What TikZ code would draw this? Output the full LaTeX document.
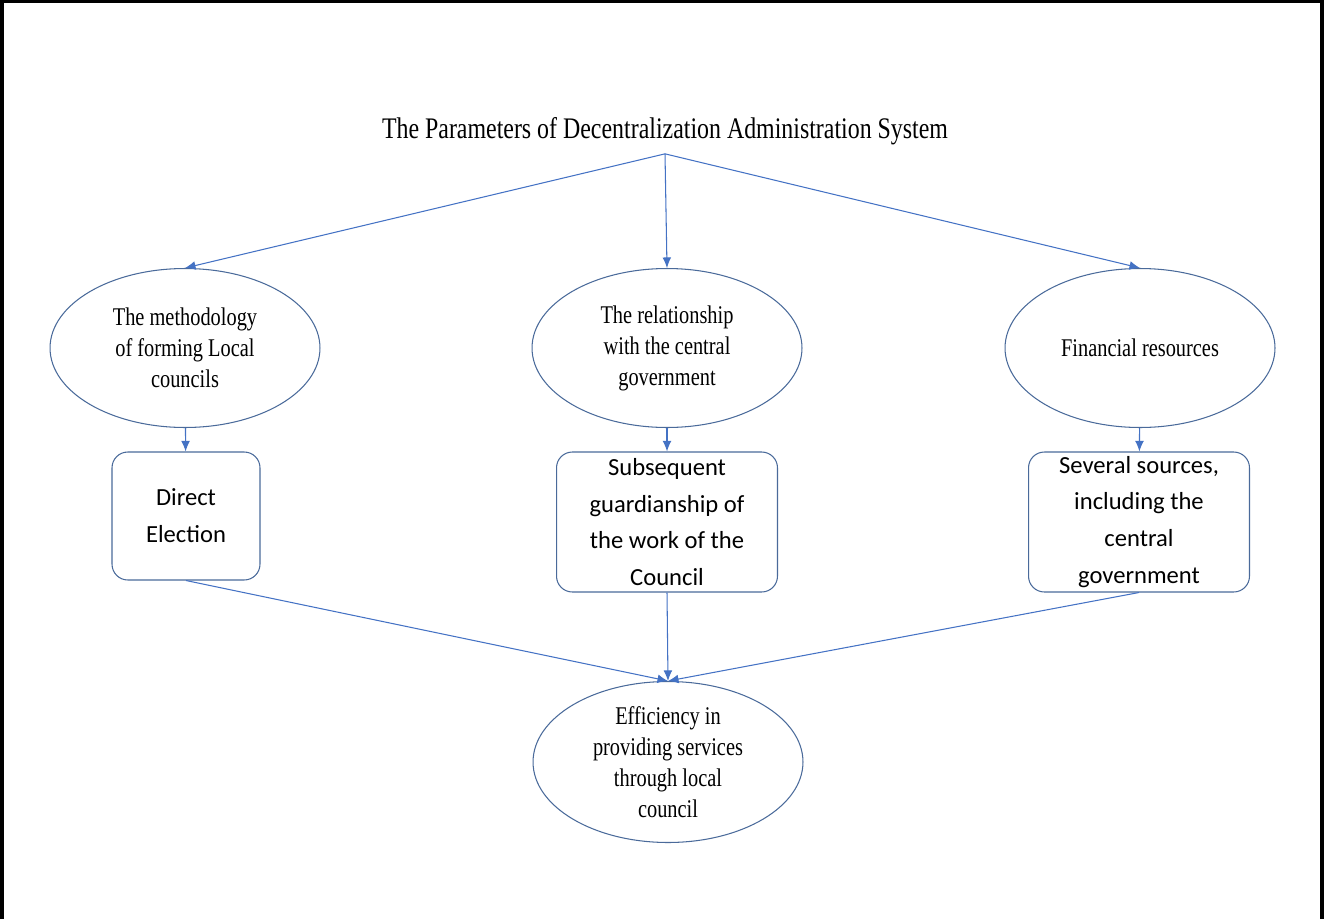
\documentclass[tikz,border=0pt]{standalone}
\usepackage{fontspec}
\usepackage{tikz}
\usetikzlibrary{shapes.geometric,arrows.meta}
\newfontfamily\ellfont[FakeStretch=0.8]{Liberation Serif}
\newfontfamily\boxfont{Carlito}
\definecolor{arrowblue}{HTML}{4472C4}
\definecolor{lineblue}{HTML}{4A6A9A}

\tikzset{
    param/.style={shape=ellipse,draw=lineblue,line width=0.6pt,minimum width=5.4cm,minimum height=3.18cm,inner sep=0pt,align=center,font=\ellfont\fontsize{14.5}{17.6}\selectfont},
    result/.style={shape=rectangle,rounded corners=9pt,draw=lineblue,line width=0.6pt,inner sep=0pt,align=center,font=\boxfont\fontsize{14}{21}\selectfont},
    link/.style={draw=arrowblue,line width=0.6pt,-{Latex[length=6pt,width=5pt]}}
}

\begin{document}
\begin{tikzpicture}[x=0.02cm,y=-0.02cm]
    \useasboundingbox (0,0) rectangle (1324,919);
    \draw[line width=2.5pt] (2,919) -- (2,1) -- (1322,1) -- (1322,919);

    \node[inner sep=0pt,minimum height=0.9cm,font=\ellfont\fontsize{17}{20}\selectfont] (T) at (665,131) {The Parameters of Decentralization Administration System};

    \node[param] (M) at (185,348) {The methodology\\of forming Local\\councils};
    \node[param] (R) at (667,348) {The relationship\\with the central\\government};
    \node[param] (F) at (1140,348) {Financial resources};

    \node[result,minimum width=2.96cm,minimum height=2.56cm] (D) at (186,516) {Direct\\Election};
    \node[result,minimum width=4.42cm,minimum height=2.8cm] (S) at (667,522) {Subsequent\\guardianship of\\the work of the\\Council};
    \node[result,minimum width=4.42cm,minimum height=2.8cm] (V) at (1139,522) {Several sources,\\including the\\central\\government};

    \node[param,minimum width=5.4cm,minimum height=3.22cm] (E) at (668,762) {Efficiency in\\providing services\\through local\\council};

    \path[link] (T.south) -- (M.north);
    \path[link] (T.south) -- (R.north);
    \path[link] (T.south) -- (F.north);
    \path[link] (M) -- (D);
    \path[link] (R) -- (S);
    \path[link] (F) -- (V);
    \path[link] (D.south) -- (E.north);
    \path[link] (S.south) -- (E.north);
    \path[link] (V.south) -- (E.north);
\end{tikzpicture}
\end{document}
